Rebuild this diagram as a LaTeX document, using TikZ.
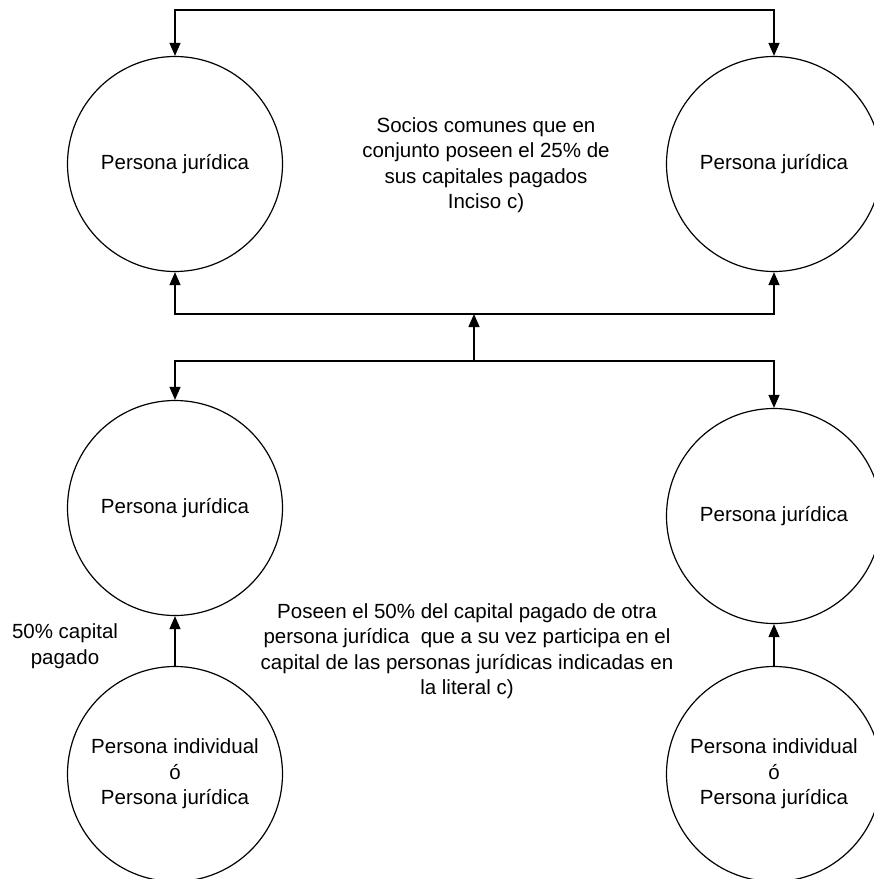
\documentclass[tikz,border=0pt]{standalone}
\usepackage{fontspec}
\setmainfont{Liberation Sans}
\usetikzlibrary{arrows.meta}
\begin{document}
\begin{tikzpicture}[x=1pt,y=-1pt,
  ente/.style={circle,draw,line width=1.2pt,minimum size=215pt,inner sep=0pt,align=center,
    font=\fontsize{20.5}{25.5}\selectfont},
  nota/.style={align=center,font=\fontsize{20.5}{25.5}\selectfont},
  flecha/.style={line width=1.2pt,-{Triangle[length=13pt,width=11pt]}}]
\useasboundingbox (0,0) rectangle (874,879);
\clip (0,0) rectangle (874,879);

% Entities
\node[ente] (tl) at (175,164) {Persona jurídica};
\node[ente] (tr) at (774,164) {Persona jurídica};
\node[ente] (ml) at (175,508) {Persona jurídica};
\node[ente] (mr) at (774,516) {Persona jurídica};
\node[ente] (bl) at (175,774) {Persona individual\\ó\\Persona jurídica};
\node[ente] (br) at (774,774) {Persona individual\\ó\\Persona jurídica};

% Explanatory texts
\node[nota] (t1) at (486,165) {Socios comunes que en\\conjunto poseen el 25\% de\\sus capitales pagados\\Inciso c)};
\node[nota] (t2) at (467,651) {Poseen el 50\% del capital pagado de otra\\persona jurídica\ \ que a su vez participa en el\\capital de las personas jurídicas indicadas en\\la literal c)};
\node[nota] (t3) at (65,646) {50\% capital\\pagado};

% Bus junctions
\coordinate (topbar) at (474,10);
\coordinate (midbar) at (474,314);
\coordinate (lowbar) at (474,361);

% Connectors
\draw[flecha] (topbar) -| (tl.north);
\draw[flecha] (topbar) -| (tr.north);
\draw[flecha] (midbar) -| (tl.south);
\draw[flecha] (midbar) -| (tr.south);
\draw[flecha] (lowbar) -- (midbar);
\draw[flecha] (lowbar) -| (ml.north);
\draw[flecha] (lowbar) -| (mr.north);
\draw[flecha] (bl.north) -- (ml.south);
\draw[flecha] (br.north) -- (mr.south);
\end{tikzpicture}
\end{document}
